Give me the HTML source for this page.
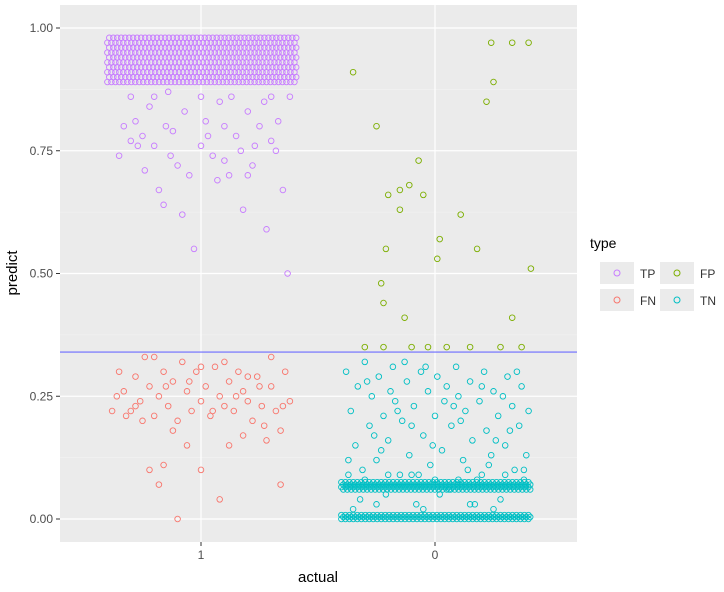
<!DOCTYPE html>
<html><head><meta charset="utf-8"><style>
body{margin:0;background:#fff;font-family:"Liberation Sans",sans-serif}
</style></head><body>
<svg id="chart" width="724" height="587" xmlns="http://www.w3.org/2000/svg">
<rect x="60" y="5" width="517" height="537" fill="#EBEBEB"/>
<g id="grid"></g>
<g id="pts"></g>
<g id="axes"></g>
<text x="318" y="582" font-size="15" text-anchor="middle" fill="#000">actual</text>
<text transform="translate(17,273) rotate(-90)" font-size="15" text-anchor="middle" fill="#000">predict</text>
<g>
<text x="590" y="248" font-size="14">type</text>
<rect x="600" y="262" width="34" height="22" fill="#EBEBEB"/>
<circle cx="617" cy="273" r="3" fill="none" stroke="#C77CFF" stroke-width="1"/>
<text x="640" y="278" font-size="12" fill="#333">TP</text>
<rect x="600" y="289" width="34" height="22" fill="#EBEBEB"/>
<circle cx="617" cy="300" r="3" fill="none" stroke="#F8766D" stroke-width="1"/>
<text x="640" y="305" font-size="12" fill="#333">FN</text>
<rect x="660" y="262" width="34" height="22" fill="#EBEBEB"/>
<circle cx="677" cy="273" r="3" fill="none" stroke="#7CAE00" stroke-width="1"/>
<text x="700" y="278" font-size="12" fill="#333">FP</text>
<rect x="660" y="289" width="34" height="22" fill="#EBEBEB"/>
<circle cx="677" cy="300" r="3" fill="none" stroke="#00BFC4" stroke-width="1"/>
<text x="700" y="305" font-size="12" fill="#333">TN</text>
</g>
</svg>
<script>
const categories=["1","0"];
const yTicks=[0,0.25,0.5,0.75,1];
const yTickLabels=["0.00","0.25","0.50","0.75","1.00"];
const threshold=0.34;
const tpBandLevels=[0.89,0.90,0.91,0.92,0.93,0.94,0.95,0.96,0.97,0.98];
const tnBandLevels=[0.0,0.004,0.008,0.06,0.065,0.07,0.075];
const tpPoints=[[-0.35,0.74],[-0.3,0.86],[-0.28,0.81],[-0.25,0.78],[-0.2,0.76],[-0.22,0.84],[-0.15,0.80],[-0.1,0.72],[-0.12,0.79],[-0.05,0.70],[-0.18,0.67],[-0.08,0.62],[-0.16,0.64],[-0.03,0.55],[0,0.76],[0.02,0.81],[0.05,0.74],[0.08,0.85],[0.1,0.73],[0.12,0.70],[0.15,0.78],[0.18,0.63],[0.2,0.83],[0.22,0.72],[0.25,0.80],[0.28,0.59],[0.3,0.77],[0.32,0.75],[0.35,0.67],[0.37,0.50],[0.38,0.86],[-0.33,0.80],[-0.27,0.76],[-0.2,0.86],[-0.13,0.74],[-0.07,0.83],[0.03,0.78],[0.07,0.69],[0.13,0.86],[0.17,0.75],[0.23,0.76],[0.27,0.85],[0.33,0.81],[-0.24,0.71],[-0.14,0.87],[0.0,0.86],[0.1,0.80],[0.2,0.70],[0.3,0.86],[-0.3,0.77]];
const fnPoints=[[-0.38,0.22],[-0.35,0.30],[-0.33,0.26],[-0.3,0.22],[-0.28,0.29],[-0.26,0.24],[-0.24,0.33],[-0.22,0.27],[-0.2,0.21],[-0.18,0.25],[-0.16,0.30],[-0.14,0.23],[-0.12,0.28],[-0.1,0.20],[-0.08,0.32],[-0.06,0.26],[-0.04,0.22],[-0.02,0.30],[0,0.24],[0.02,0.27],[0.04,0.21],[0.06,0.31],[0.08,0.25],[0.1,0.23],[0.12,0.28],[0.14,0.22],[0.16,0.30],[0.18,0.26],[0.2,0.24],[0.22,0.20],[0.24,0.29],[0.26,0.23],[0.28,0.16],[0.3,0.27],[0.32,0.22],[0.34,0.18],[0.36,0.30],[0.38,0.24],[-0.22,0.10],[-0.16,0.11],[-0.18,0.07],[-0.06,0.15],[-0.1,0.0],[0.0,0.10],[0.08,0.04],[0.12,0.15],[0.34,0.07],[-0.36,0.25],[-0.25,0.20],[-0.15,0.27],[-0.05,0.28],[0.05,0.22],[0.15,0.25],[0.25,0.27],[0.35,0.23],[0.3,0.33],[-0.32,0.21],[-0.12,0.18],[0.1,0.32],[0.2,0.29],[-0.2,0.33],[0.0,0.31],[0.18,0.17],[-0.28,0.23],[0.27,0.19]];
const fpPoints=[[-0.35,0.91],[-0.25,0.80],[-0.21,0.55],[-0.23,0.48],[-0.22,0.44],[-0.22,0.35],[-0.2,0.66],[-0.15,0.67],[-0.11,0.68],[-0.07,0.73],[-0.05,0.66],[0.02,0.57],[0.01,0.53],[0.24,0.97],[0.33,0.97],[0.4,0.97],[0.25,0.89],[0.22,0.85],[0.11,0.62],[0.18,0.55],[0.41,0.51],[0.33,0.41],[-0.13,0.41],[-0.15,0.63],[-0.3,0.35],[-0.1,0.35],[0.05,0.35],[0.15,0.35],[0.28,0.35],[0.37,0.35],[-0.03,0.35]];
const tnPoints=[[-0.38,0.30],[-0.36,0.22],[-0.34,0.15],[-0.33,0.27],[-0.31,0.10],[-0.3,0.32],[-0.28,0.19],[-0.27,0.25],[-0.25,0.12],[-0.24,0.29],[-0.22,0.21],[-0.21,0.05],[-0.2,0.16],[-0.18,0.31],[-0.17,0.24],[-0.15,0.09],[-0.14,0.20],[-0.12,0.28],[-0.11,0.13],[-0.09,0.23],[-0.08,0.03],[-0.06,0.30],[-0.05,0.17],[-0.03,0.26],[-0.02,0.11],[0,0.21],[0.01,0.29],[0.03,0.14],[0.04,0.24],[0.06,0.06],[0.07,0.19],[0.09,0.31],[0.1,0.25],[0.12,0.12],[0.13,0.22],[0.15,0.28],[0.16,0.16],[0.18,0.08],[0.19,0.24],[0.21,0.30],[0.22,0.18],[0.24,0.13],[0.25,0.26],[0.27,0.21],[0.28,0.04],[0.3,0.15],[0.31,0.29],[0.33,0.23],[0.34,0.10],[0.36,0.19],[0.37,0.27],[0.39,0.13],[0.4,0.22],[-0.37,0.12],[-0.32,0.04],[-0.26,0.17],[-0.19,0.26],[-0.13,0.32],[-0.07,0.09],[-0.01,0.15],[0.05,0.27],[0.11,0.20],[0.17,0.03],[0.23,0.11],[0.29,0.25],[0.35,0.30],[-0.35,0.02],[-0.23,0.14],[-0.1,0.19],[0.02,0.05],[0.14,0.10],[0.26,0.16],[0.38,0.08],[-0.29,0.28],[-0.16,0.22],[-0.04,0.31],[0.08,0.23],[0.2,0.27],[0.32,0.18],[-0.37,0.09],[-0.2,0.09],[0.0,0.08],[0.2,0.09],[0.38,0.10],[-0.3,0.08],[-0.1,0.09],[0.1,0.08],[0.3,0.09],[-0.25,0.03],[0.25,0.02],[-0.05,0.02],[0.15,0.03]];
const X0=60,X1=577,Y0=5,Y1=542;
function xScale(i,j){return 201+i*234+j*234;}
function yScale(v){return 519-491*v;}
const NS="http://www.w3.org/2000/svg";
const grid=document.getElementById('grid'),pts=document.getElementById('pts'),axes=document.getElementById('axes');
function line(g,x1,y1,x2,y2,c,w,name){const l=document.createElementNS(NS,'line');l.setAttribute('x1',x1);l.setAttribute('y1',y1);l.setAttribute('x2',x2);l.setAttribute('y2',y2);l.setAttribute('stroke',c);l.setAttribute('stroke-width',w);


g.appendChild(l);}
for(let k=0;k<yTicks.length-1;k++){const y=yScale((yTicks[k]+yTicks[k+1])/2);line(grid,X0,y,X1,y,'#F5F5F5',0.6,'minor-gridline');}
yTicks.forEach((t,k)=>{const y=yScale(t);line(grid,X0,y,X1,y,'#fff',1.2,'major-gridline');line(axes,56,y,60,y,'#333',1,'y-tick');
const tx=document.createElementNS(NS,'text');tx.setAttribute('x',53);tx.setAttribute('y',y+4);tx.setAttribute('text-anchor','end');tx.setAttribute('font-size','12');tx.setAttribute('fill','#4D4D4D');tx.textContent=yTickLabels[k];


axes.appendChild(tx);});
categories.forEach((c,i)=>{const x=xScale(i,0);line(grid,x,Y0,x,Y1,'#fff',1.2,'x-gridline');line(axes,x,542,x,546,'#333',1,'x-tick');
const tx=document.createElementNS(NS,'text');tx.setAttribute('x',x);tx.setAttribute('y',559);tx.setAttribute('text-anchor','middle');tx.setAttribute('font-size','12');tx.setAttribute('fill','#4D4D4D');tx.textContent=c;


axes.appendChild(tx);});
function pt(cx,cy,col,name){const c=document.createElementNS(NS,'circle');c.setAttribute('cx',cx.toFixed(1));c.setAttribute('cy',cy.toFixed(1));c.setAttribute('r',2.8);c.setAttribute('fill','none');c.setAttribute('stroke',col);c.setAttribute('stroke-width',0.9);


pts.appendChild(c);}
tpBandLevels.forEach((v,r)=>{for(let j=-0.4;j<=0.4;j+=0.017){pt(xScale(0,j+(r%2)*0.008),yScale(v),'#C77CFF','tp-point');}});
tnBandLevels.forEach((v,r)=>{for(let j=-0.4;j<=0.4;j+=0.017){pt(xScale(1,j+(r%2)*0.008),yScale(v),'#00BFC4','tn-point');}});
tpPoints.forEach(p=>pt(xScale(0,p[0]),yScale(p[1]),'#C77CFF','tp-point'));
fnPoints.forEach(p=>pt(xScale(0,p[0]),yScale(p[1]),'#F8766D','fn-point'));
fpPoints.forEach(p=>pt(xScale(1,p[0]),yScale(p[1]),'#7CAE00','fp-point'));
tnPoints.forEach(p=>pt(xScale(1,p[0]),yScale(p[1]),'#00BFC4','tn-point'));
line(pts,X0,yScale(threshold),X1,yScale(threshold),'#6B6BFF',1.1,'threshold-line');
</script>
</body></html>
